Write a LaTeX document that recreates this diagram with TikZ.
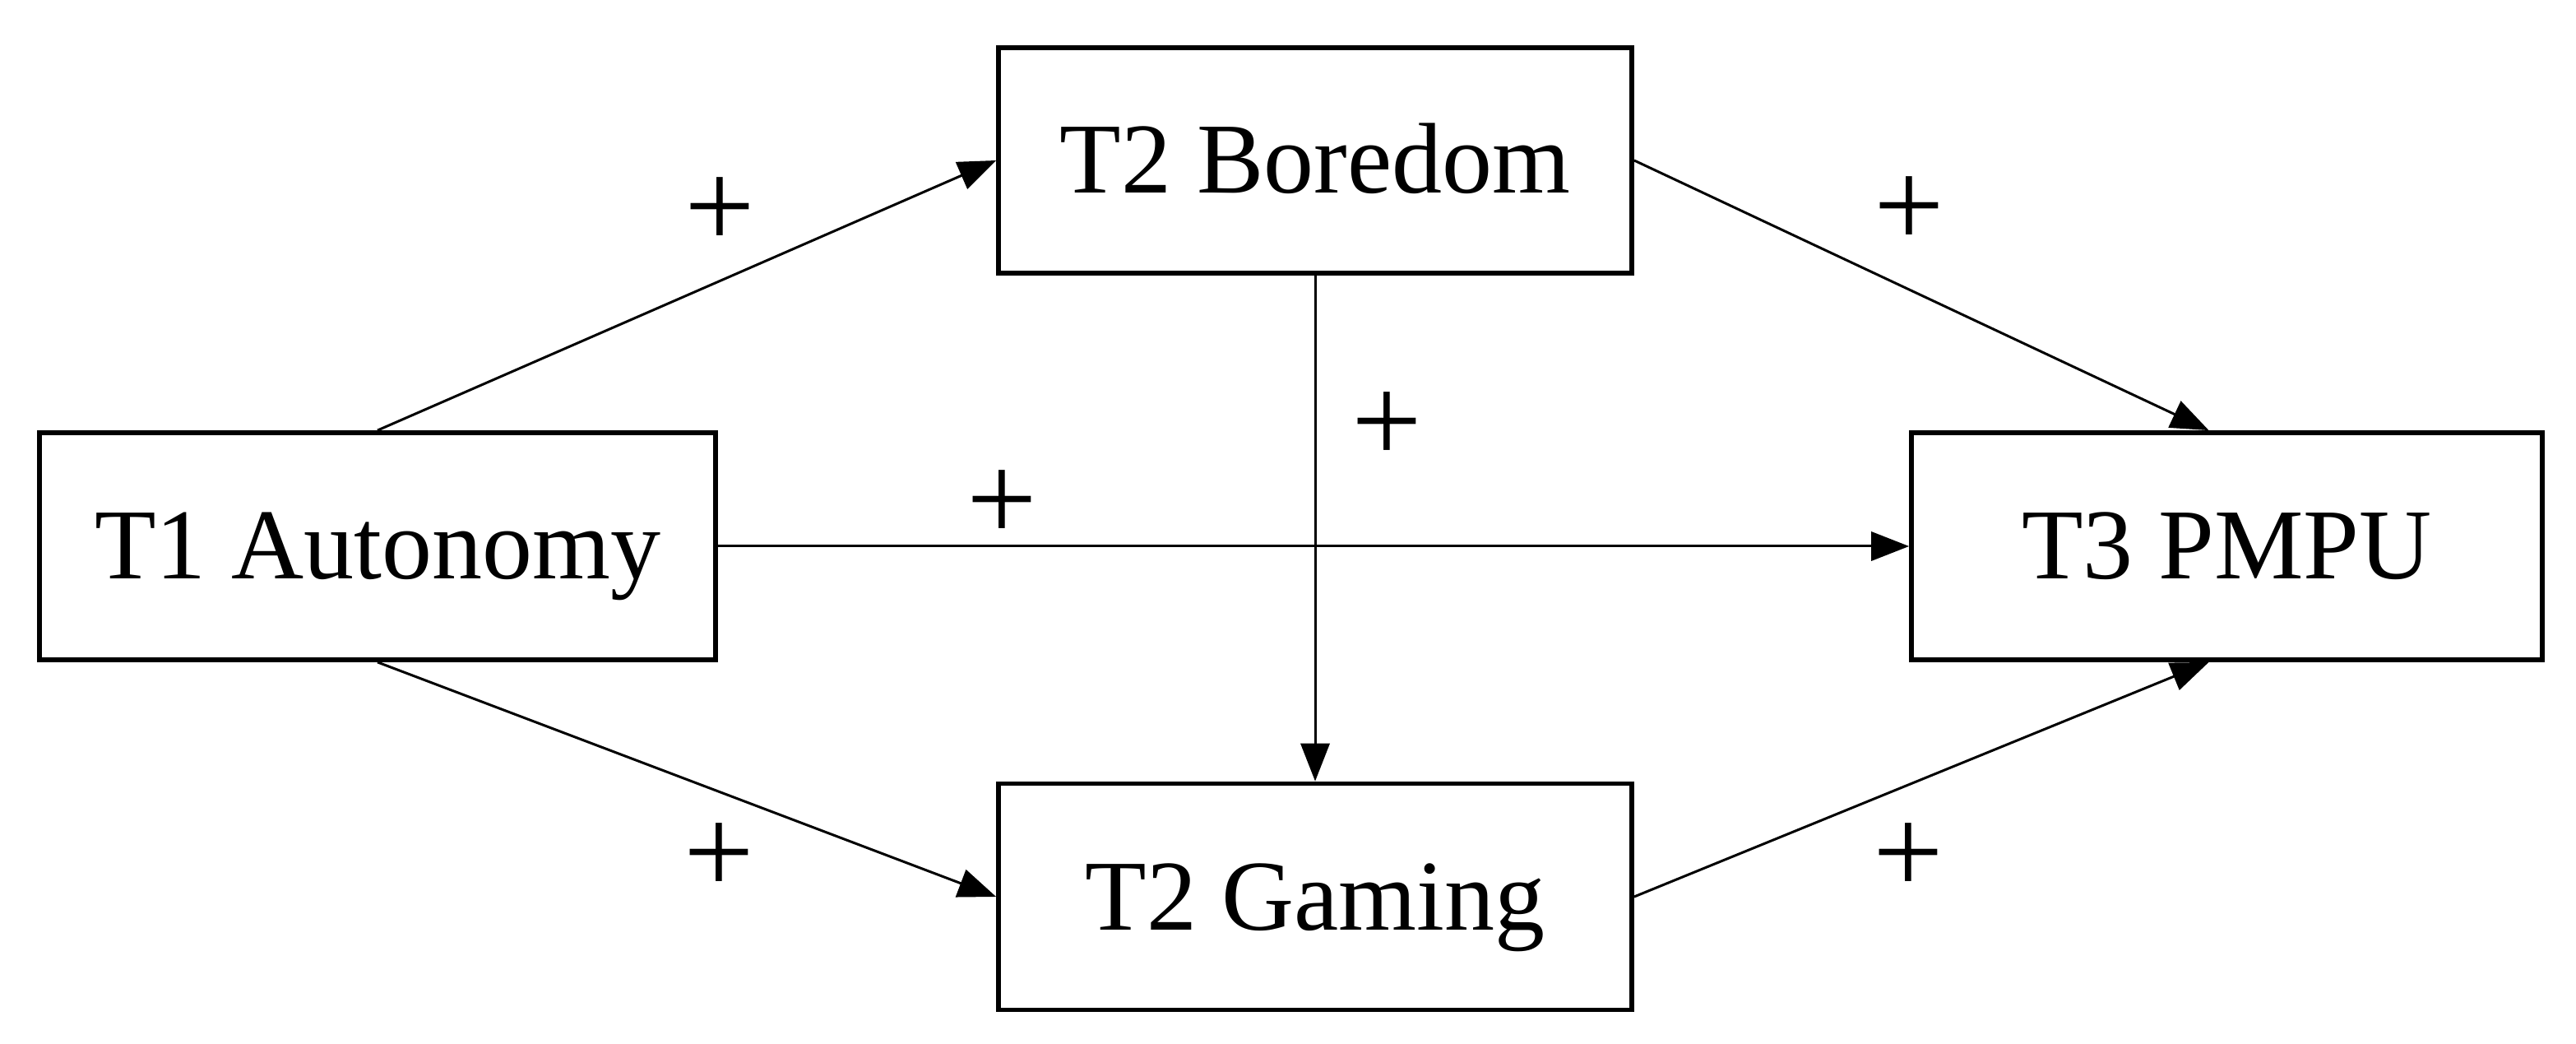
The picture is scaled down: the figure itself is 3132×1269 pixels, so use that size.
\documentclass[tikz,border=0pt]{standalone}
\usepackage{fontspec}
\setmainfont{Liberation Serif}
\usetikzlibrary{arrows.meta}
\begin{document}
\begin{tikzpicture}[x=0.25pt,y=-0.25pt,
  box/.style={draw,line width=1.45pt,inner sep=0pt,font=\fontsize{30.5}{36}\selectfont,text height=20pt,text depth=0pt},
  link/.style={line width=0.75pt,-{Triangle[length=11.5pt,width=8.8pt]}},
  sign/.style={font=\fontsize{38}{42}\selectfont,inner sep=0pt}]
\useasboundingbox (0,0) rectangle (3132,1269);
\node[box,minimum width=205.5pt,minimum height=69pt] (t1) at (459,664) {T1 Autonomy};
\node[box,minimum width=192.5pt,minimum height=68.5pt] (bor) at (1599,195) {T2 Boredom};
\node[box,minimum width=192.5pt,minimum height=68.75pt] (gam) at (1599,1090) {T2 Gaming};
\node[box,minimum width=191.75pt,minimum height=69pt] (t3) at (2707.5,664) {T3 PMPU};
\draw[link] (t1.north) -- (bor.west);
\draw[link] (bor.east) -- ([xshift=-5.5pt]t3.north);
\draw[link] (t1.east) -- (t3.west);
\draw[link] (bor.south) -- (gam.north);
\draw[link] (t1.south) -- (gam.west);
\draw[link] (gam.east) -- ([xshift=-5.5pt]t3.south);
\node[sign] (p1) at (875,259) {+};
\node[sign] (p2) at (2321,258) {+};
\node[sign] (p3) at (1686,520) {+};
\node[sign] (p4) at (1218,615) {+};
\node[sign] (p5) at (874,1044) {+};
\node[sign] (p6) at (2320,1044) {+};
\end{tikzpicture}
\end{document}
